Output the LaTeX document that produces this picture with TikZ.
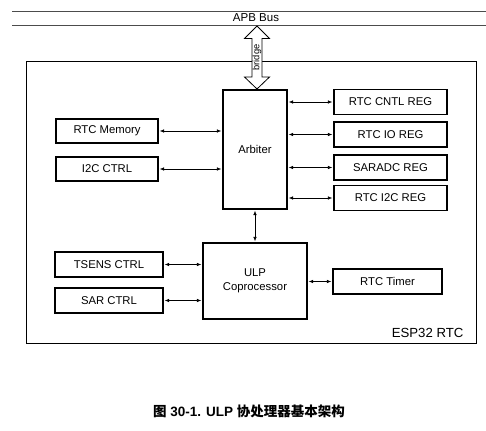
\documentclass[tikz,border=0pt]{standalone}
\usepackage{fontspec}
\setmainfont{Liberation Sans}
\newfontfamily\cjk{Noto Sans CJK SC}
\usetikzlibrary{arrows.meta}
\begin{document}
\begin{tikzpicture}[x=1pt,y=-1pt,
  blk/.style={draw, line width=1.2pt, inner sep=0pt, align=center, font=\fontsize{11.3}{13.5}\selectfont},
  conn/.style={line width=0.7pt, {Latex[length=4.5pt,width=3.5pt]}-{Latex[length=4.5pt,width=3.5pt]}, shorten <=1pt, shorten >=1pt},
  busline/.style={line width=0.9pt, draw=black!70}]
\useasboundingbox (0,0) rectangle (486,430);
% APB bus
\draw[busline] (12,11) -- (486,11);
\draw[busline] (12,25) -- (486,25);
\node[font=\fontsize{11.5}{13}\selectfont] (apb) at (256,18) {APB Bus};
% outer box
\draw[line width=0.9pt] (26,61) rectangle (476,343);
\node[anchor=base east, font=\fontsize{13.2}{15}\selectfont] (esp) at (467,337) {ESP32 RTC};
% blocks
\node[blk, minimum width=102pt, minimum height=24pt] (mem) at (107,131) {RTC Memory};
\node[blk, minimum width=102pt, minimum height=24pt] (i2c) at (107,169) {I2C CTRL};
\node[blk, minimum width=108pt, minimum height=25pt] (tsens) at (109,264.5) {TSENS CTRL};
\node[blk, minimum width=108pt, minimum height=25pt] (sar) at (109,300.5) {SAR CTRL};
\node[blk, minimum width=64pt, minimum height=119pt] (arb) at (255,149.5) {Arbiter};
\node[blk, minimum width=104pt, minimum height=76pt] (ulp) at (255,281) {ULP\\Coprocessor};
\node[blk, minimum width=113pt, minimum height=25pt] (cntl) at (390.5,102) {RTC CNTL REG};
\node[blk, minimum width=113pt, minimum height=25pt] (io) at (390.5,134.5) {RTC IO REG};
\node[blk, minimum width=113pt, minimum height=25pt] (adc) at (390.5,167.5) {SARADC REG};
\node[blk, minimum width=113pt, minimum height=25pt] (ri2c) at (390.5,198) {RTC I2C REG};
\node[blk, minimum width=109pt, minimum height=25pt] (timer) at (387.5,281.5) {RTC Timer};
% connectors
\draw[conn] (mem.east) -- (mem.east -| arb.west);
\draw[conn] (i2c.east) -- (i2c.east -| arb.west);
\draw[conn] (arb.east |- cntl.west) -- (cntl.west);
\draw[conn] (arb.east |- io.west) -- (io.west);
\draw[conn] (arb.east |- adc.west) -- (adc.west);
\draw[conn] (arb.east |- ri2c.west) -- (ri2c.west);
\draw[conn] (arb.south) -- (ulp.north);
\draw[conn] (tsens.east) -- (tsens.east -| ulp.west);
\draw[conn] (sar.east) -- (sar.east -| ulp.west);
\draw[conn] (ulp.east |- timer.west) -- (timer.west);
% bridge double arrow
\coordinate (btop) at (257,26);
\coordinate (bbot) at (257,89);
\draw[fill=white, line width=0.8pt]
  (btop) -- (269.5,38.5) -- (262,38.5) -- (262,77) -- (269.5,77) -- (bbot)
  -- (244.5,77) -- (252,77) -- (252,38.5) -- (244.5,38.5) -- cycle;
\node[rotate=90, inner sep=0pt, font=\fontsize{9.3}{10}\selectfont] (bridge) at (257,57.5) {bridge};
% caption
\node[anchor=base, font=\fontsize{13.5}{15}\selectfont\bfseries] (cap) at (249,416) {{\cjk 图} 30-1. ULP {\cjk 协处理器基本架构}};
\end{tikzpicture}
\end{document}
